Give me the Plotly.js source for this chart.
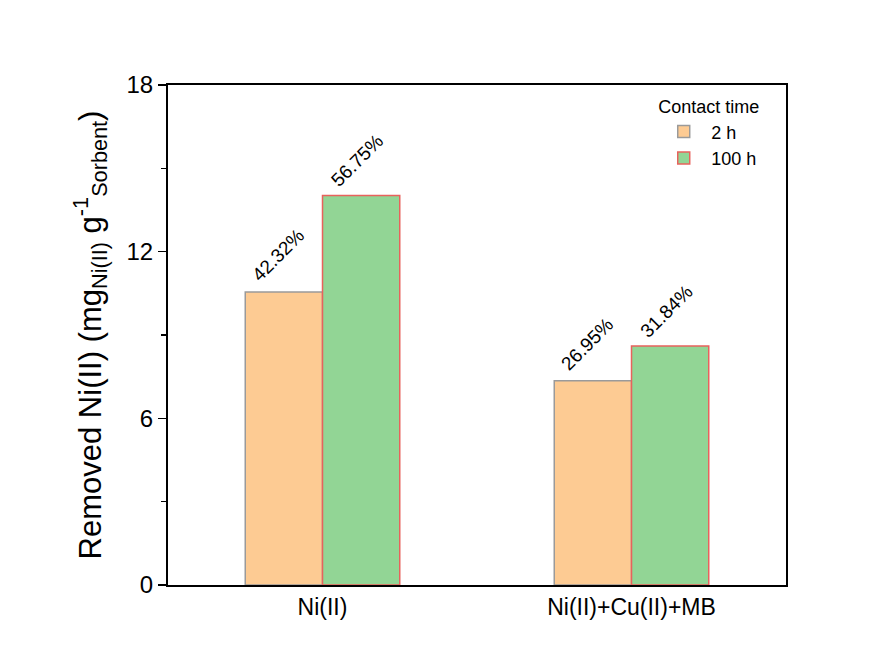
<!DOCTYPE html>
<html>
<head>
<meta charset="utf-8">
<script src="https://cdn.plot.ly/plotly-3.0.1.min.js"></script>
<style>html,body{margin:0;padding:0;background:#fff;}#chart{width:896px;height:653px;}</style>
</head>
<body>
<div id="chart"></div>
<script>
const categories = ["Ni(II)", "Ni(II)+Cu(II)+MB"];
const series2h = [10.55, 7.35];
const series100h = [14.02, 8.60];
const labels2h = ["42.32%", "26.95%"];
const labels100h = ["56.75%", "31.84%"];
const seriesNames = ["2 h", "100 h"];

const font = "Liberation Sans, Arial, sans-serif";

const traces = [
  {type: "bar", name: seriesNames[0], x: categories, y: series2h,
   marker: {color: "#FDCB93", line: {color: "#9A9A9A", width: 1.5}}},
  {type: "bar", name: seriesNames[1], x: categories, y: series100h,
   marker: {color: "#92D595", line: {color: "#E8625C", width: 1.5}}}
];

const annotations = [];
categories.forEach((c, i) => {
  annotations.push({x: i - 0.125, y: series2h[i], xref: "x", yref: "y", text: labels2h[i],
    showarrow: false, textangle: -45, yshift: 37, xshift: -5,
    font: {family: font, size: 19, color: "#000"}});
  annotations.push({x: i + 0.125, y: series100h[i], xref: "x", yref: "y", text: labels100h[i],
    showarrow: false, textangle: -45, yshift: 35, xshift: -4,
    font: {family: font, size: 19, color: "#000"}});
});

const layout = {
  width: 896, height: 653,
  margin: {l: 168, r: 110, t: 85, b: 68},
  paper_bgcolor: "#fff", plot_bgcolor: "#fff",
  barmode: "group", bargap: 0.5, bargroupgap: 0,
  font: {family: font, color: "#000"},
  showlegend: true,
  legend: {
    title: {text: "Contact time", font: {family: font, size: 18}},
    x: 0.79, y: 0.99, xanchor: "left", yanchor: "top",
    bgcolor: "rgba(0,0,0,0)", font: {family: font, size: 18},
    itemwidth: 45, tracegroupgap: 0
  },
  xaxis: {
    type: "category", range: [-0.5, 1.5],
    showline: true, linecolor: "#000", linewidth: 2, mirror: true,
    ticks: "", tickfont: {family: font, size: 23}, showgrid: false, zeroline: false
  },
  yaxis: {
    range: [0, 18], tickvals: [0, 6, 12, 18], ticks: "outside", ticklen: 8, tickwidth: 1.5,
    tickcolor: "#000",
    minor: {tickvals: [3, 9, 15], ticks: "outside", ticklen: 5, tickwidth: 1.5, tickcolor: "#000", showgrid: false},
    showline: true, linecolor: "#000", linewidth: 2, mirror: true,
    showgrid: false, zeroline: false,
    tickfont: {family: font, size: 24},
    title: {text: "Removed Ni(II) (mg<sub>Ni(II)</sub> g<sup>-1</sup><sub>Sorbent</sub>)",
            font: {family: font, size: 31}, standoff: 16}
  },
  annotations: annotations
};

Plotly.newPlot("chart", traces, layout, {displayModeBar: false, staticPlot: true});
</script>
</body>
</html>
